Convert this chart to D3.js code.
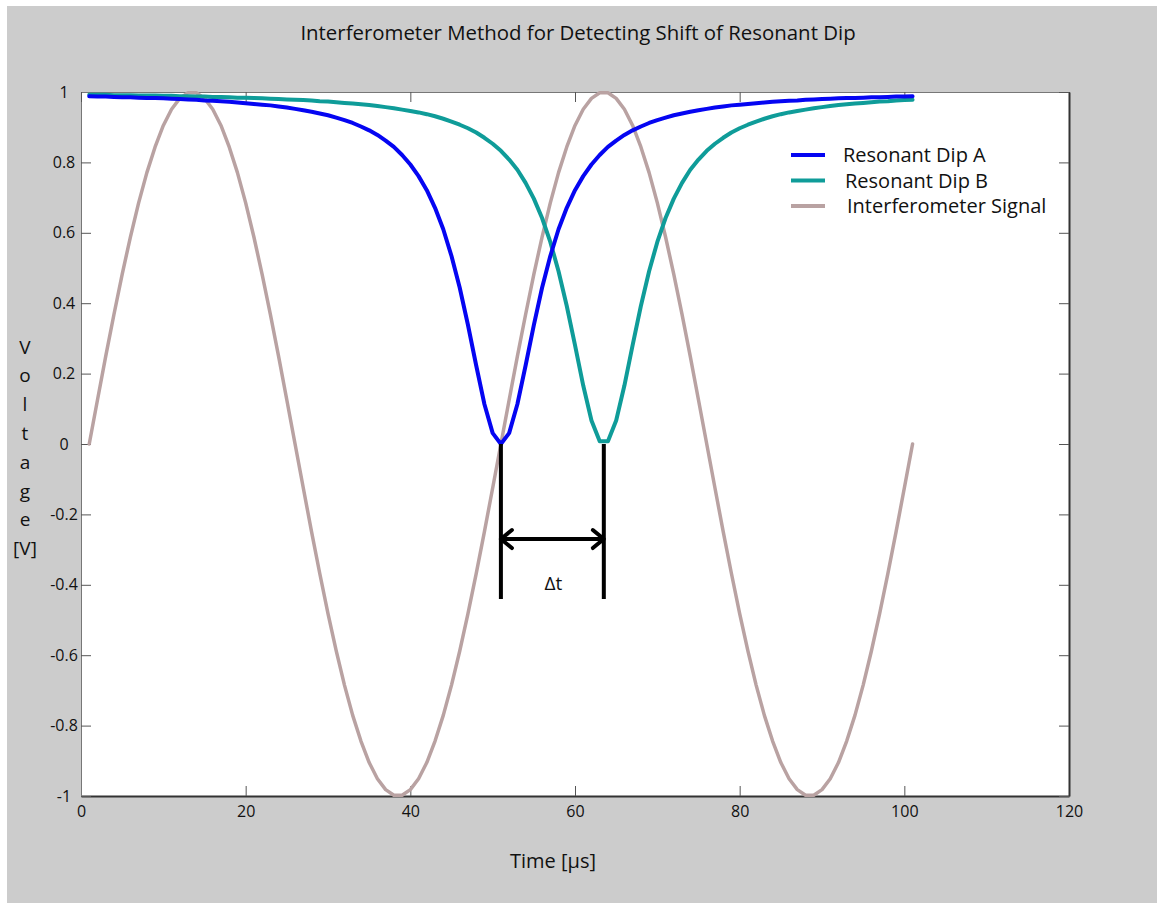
<!DOCTYPE html>
<html>
<head>
<meta charset="utf-8">
<script src="https://cdn.jsdelivr.net/npm/d3@7"></script>
<style>
  body { margin: 0; background: #fff; }
  svg { display: block; font-family: "Open Sans", sans-serif; }
</style>
</head>
<body>
<svg id="chart" width="1157" height="903"></svg>
<script>
// Sample times [us]
const timeUs = [
  1, 2, 3, 4, 5, 6, 7, 8, 9, 10, 11, 12, 13, 14, 15, 16, 17, 18, 19, 20,
  21, 22, 23, 24, 25, 26, 27, 28, 29, 30, 31, 32, 33, 34, 35, 36, 37, 38, 39, 40,
  41, 42, 43, 44, 45, 46, 47, 48, 49, 50, 51, 52, 53, 54, 55, 56, 57, 58, 59, 60,
  61, 62, 63, 64, 65, 66, 67, 68, 69, 70, 71, 72, 73, 74, 75, 76, 77, 78, 79, 80,
  81, 82, 83, 84, 85, 86, 87, 88, 89, 90, 91, 92, 93, 94, 95, 96, 97, 98, 99, 100, 101
];

// Resonant dip A (minimum at 51 us)
const dipA = [
  0.988, 0.987, 0.987, 0.986, 0.985, 0.985, 0.984, 0.983, 0.983, 0.982,
  0.981, 0.980, 0.979, 0.978, 0.976, 0.975, 0.974, 0.972, 0.970, 0.968,
  0.966, 0.964, 0.962, 0.959, 0.956, 0.952, 0.948, 0.944, 0.939, 0.934,
  0.927, 0.920, 0.912, 0.902, 0.891, 0.878, 0.862, 0.844, 0.821, 0.794,
  0.761, 0.721, 0.671, 0.610, 0.534, 0.444, 0.338, 0.223, 0.113, 0.031,
  0,
  0.031, 0.113, 0.223, 0.338, 0.444, 0.534, 0.610, 0.671, 0.721, 0.761,
  0.794, 0.821, 0.844, 0.862, 0.878, 0.891, 0.902, 0.912, 0.920, 0.927,
  0.934, 0.939, 0.944, 0.948, 0.952, 0.956, 0.959, 0.962, 0.964, 0.966,
  0.968, 0.970, 0.972, 0.974, 0.975, 0.976, 0.978, 0.979, 0.980, 0.981,
  0.982, 0.983, 0.983, 0.984, 0.985, 0.985, 0.986, 0.987, 0.987, 0.988
];

// Resonant dip B (minimum between 63 and 64 us)
const dipB = [
  0.992, 0.992, 0.992, 0.991, 0.991, 0.991, 0.990, 0.990, 0.990, 0.989,
  0.989, 0.988, 0.988, 0.987, 0.987, 0.986, 0.986, 0.985, 0.984, 0.984,
  0.983, 0.982, 0.981, 0.980, 0.979, 0.978, 0.977, 0.976, 0.974, 0.973,
  0.971, 0.969, 0.967, 0.965, 0.963, 0.960, 0.957, 0.954, 0.950, 0.946,
  0.942, 0.937, 0.931, 0.924, 0.916, 0.907, 0.897, 0.885, 0.870, 0.853,
  0.833, 0.808, 0.779, 0.742, 0.697, 0.642, 0.574, 0.491, 0.392, 0.281,
  0.166, 0.067, 0.008,
  0.008, 0.067, 0.166, 0.281, 0.392, 0.491, 0.574, 0.642, 0.697, 0.742,
  0.779, 0.808, 0.833, 0.853, 0.870, 0.885, 0.897, 0.907, 0.916, 0.924,
  0.931, 0.937, 0.942, 0.946, 0.950, 0.954, 0.957, 0.960, 0.963, 0.965,
  0.967, 0.969, 0.971, 0.973, 0.974, 0.976, 0.977, 0.978
];

// Interferometer output, period 50 us
const interferometer = [
  0, 0.125, 0.249, 0.368, 0.482, 0.588, 0.685, 0.771, 0.844, 0.905,
  0.951, 0.982, 0.998, 0.998, 0.982, 0.951, 0.905, 0.844, 0.771, 0.685,
  0.588, 0.482, 0.368, 0.249, 0.125, 0,
  -0.125, -0.249, -0.368, -0.482, -0.588, -0.685, -0.771, -0.844, -0.905, -0.951,
  -0.982, -0.998, -0.998, -0.982, -0.951, -0.905, -0.844, -0.771, -0.685, -0.588,
  -0.482, -0.368, -0.249, -0.125, 0,
  0.125, 0.249, 0.368, 0.482, 0.588, 0.685, 0.771, 0.844, 0.905, 0.951,
  0.982, 0.998, 0.998, 0.982, 0.951, 0.905, 0.844, 0.771, 0.685, 0.588,
  0.482, 0.368, 0.249, 0.125, 0,
  -0.125, -0.249, -0.368, -0.482, -0.588, -0.685, -0.771, -0.844, -0.905, -0.951,
  -0.982, -0.998, -0.998, -0.982, -0.951, -0.905, -0.844, -0.771, -0.685, -0.588,
  -0.482, -0.368, -0.249, -0.125, 0
];

const seriesNames = ["Resonant Dip A", "Resonant Dip B", "Interferometer Signal"];
const xTicks = [0, 20, 40, 60, 80, 100, 120];
const yTicks = [-1, -0.8, -0.6, -0.4, -0.2, 0, 0.2, 0.4, 0.6, 0.8, 1];

// Delta-t marker: dip minima, bottom of the marker lines, arrow height
const dipMinima = [51, 63.5];
const markerBottom = -0.44;
const arrowLevel = -0.27;

const colors = { a: "#0505f2", b: "#0f9c99", sig: "#b9a2a2" };

const svg = d3.select("#chart");

// grey panel behind everything
svg.append("rect")
  .attr("x", 7).attr("y", 6)
  .attr("width", 1150).attr("height", 897)
  .attr("fill", "#cccccc");

const plotLeft = 81, plotRight = 1069, plotTop = 92, plotBottom = 796;

const x = d3.scaleLinear().domain([0, 120]).range([plotLeft, plotRight]);
const y = d3.scaleLinear().domain([-1, 1]).range([plotBottom, plotTop]);

svg.append("rect")
  .attr("x", plotLeft).attr("y", plotTop)
  .attr("width", plotRight - plotLeft).attr("height", plotBottom - plotTop)
  .attr("fill", "#fff");

// axes with inward ticks on all four sides; plain hyphen for negatives
const fmt = d => String(d);

const gx = svg.append("g")
  .attr("transform", `translate(0,${plotBottom})`)
  .call(d3.axisBottom(x).tickValues(xTicks).tickFormat(fmt).tickSizeInner(-10).tickSizeOuter(0).tickPadding(10));

const gy = svg.append("g")
  .attr("transform", `translate(${plotLeft},0)`)
  .call(d3.axisLeft(y).tickValues(yTicks).tickFormat(fmt).tickSizeInner(-10).tickSizeOuter(0).tickPadding(10));

const gt = svg.append("g")
  .attr("transform", `translate(0,${plotTop})`)
  .call(d3.axisTop(x).tickValues(xTicks).tickFormat("").tickSizeInner(-10).tickSizeOuter(0));

const gr = svg.append("g")
  .attr("transform", `translate(${plotRight},0)`)
  .call(d3.axisRight(y).tickValues(yTicks).tickFormat("").tickSizeInner(-10).tickSizeOuter(0));

[gx, gy, gt, gr].forEach(g => {
  g.selectAll(".tick line").attr("stroke", "#555");
  g.selectAll("text").attr("fill", "#111").style("font-size", "16px").style("font-family", "Open Sans, sans-serif");
});
gt.select(".domain").attr("stroke", "#777").attr("stroke-width", 1);
gy.select(".domain").attr("stroke", "#777").attr("stroke-width", 1);
gx.select(".domain").attr("stroke", "#333").attr("stroke-width", 2);
gr.select(".domain").attr("stroke", "#333").attr("stroke-width", 2);

gy.selectAll(".tick text")
  .attr("text-anchor", "middle")
  .attr("x", -17);

// curves
const line = d3.line()
  .x(d => x(d[0]))
  .y(d => y(d[1]));

const zip = vals => timeUs.map((t, i) => [t, vals[i]]);

const plot = svg.append("g")
  .attr("fill", "none")
  .attr("stroke-linejoin", "round")
  .attr("stroke-linecap", "round");

plot.append("path").datum(zip(interferometer))
  .attr("d", line).attr("stroke", colors.sig).attr("stroke-width", 3.5);
plot.append("path").datum(zip(dipB))
  .attr("d", line).attr("stroke", colors.b).attr("stroke-width", 4);
plot.append("path").datum(zip(dipA))
  .attr("d", line).attr("stroke", colors.a).attr("stroke-width", 4);

// delta-t annotation
const mark = svg.append("g").attr("stroke", "#000").attr("stroke-width", 4).attr("fill", "none");

mark.selectAll("line.drop")
  .data(dipMinima)
  .join("line")
  .attr("class", "drop")
  .attr("x1", d => x(d)).attr("x2", d => x(d))
  .attr("y1", y(0)).attr("y2", y(markerBottom));

mark.append("line")
  .attr("x1", x(dipMinima[0])).attr("x2", x(dipMinima[1]))
  .attr("y1", y(arrowLevel)).attr("y2", y(arrowLevel));

const head = 11;
mark.append("polyline")
  .attr("stroke-linecap", "round").attr("stroke-linejoin", "round")
  .attr("points", [
    [x(dipMinima[0]) + head, y(arrowLevel) - 9],
    [x(dipMinima[0]), y(arrowLevel)],
    [x(dipMinima[0]) + head, y(arrowLevel) + 9]
  ].join(" "));
mark.append("polyline")
  .attr("stroke-linecap", "round").attr("stroke-linejoin", "round")
  .attr("points", [
    [x(dipMinima[1]) - head, y(arrowLevel) - 9],
    [x(dipMinima[1]), y(arrowLevel)],
    [x(dipMinima[1]) - head, y(arrowLevel) + 9]
  ].join(" "));

svg.append("text")
  .attr("x", x((dipMinima[0] + dipMinima[1]) / 2) + 1)
  .attr("y", y(-0.395))
  .attr("dy", "0.35em")
  .attr("text-anchor", "middle")
  .style("font-size", "19px")
  .attr("fill", "#111")
  .text("Δt");

// legend
const legend = svg.append("g").attr("transform", "translate(791,155)");
const legendColors = [colors.a, colors.b, colors.sig];
const legendRows = legend.selectAll("g")
  .data(seriesNames)
  .join("g")
  .attr("transform", (d, i) => `translate(0,${i * 25.5})`);
legendRows.append("line")
  .attr("x1", 0).attr("x2", 34)
  .attr("stroke", (d, i) => legendColors[i])
  .attr("stroke-width", 4);
legendRows.append("text")
  .attr("x", (d, i) => 52 + i * 2)
  .attr("dy", "0.35em")
  .style("font-size", "20px")
  .attr("fill", "#111")
  .text(d => d);

// titles
svg.append("text")
  .attr("x", 578).attr("y", 33)
  .attr("dy", "0.35em")
  .attr("text-anchor", "middle")
  .style("font-size", "20.4px")
  .attr("fill", "#111")
  .text("Interferometer Method for Detecting Shift of Resonant Dip");

svg.append("text")
  .attr("x", 553).attr("y", 861)
  .attr("dy", "0.35em")
  .attr("text-anchor", "middle")
  .style("font-size", "20px")
  .attr("fill", "#111")
  .text("Time [µs]");

// vertical axis label, one glyph per row
const yLabel = ["V", "o", "l", "t", "a", "g", "e", "[V]"];
svg.append("g")
  .selectAll("text")
  .data(yLabel)
  .join("text")
  .attr("x", 25)
  .attr("y", (d, i) => 347 + i * 28.8)
  .attr("dy", "0.35em")
  .attr("text-anchor", "middle")
  .style("font-size", "19px")
  .attr("fill", "#111")
  .text(d => d);
</script>
</body>
</html>
